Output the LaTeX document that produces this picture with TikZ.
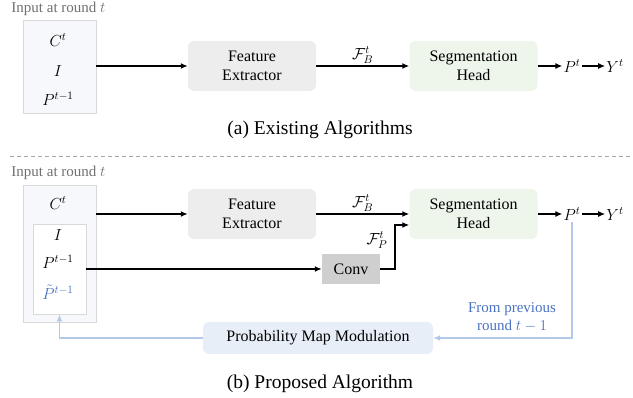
\RequirePackage{fix-cm}
\documentclass[tikz,border=0pt]{standalone}
\usepackage{fontspec}
\setmainfont{Liberation Serif}
\usetikzlibrary{arrows.meta}

\definecolor{inFill}{HTML}{F7F8FB}
\definecolor{inLine}{HTML}{D9D9D9}
\definecolor{feFill}{HTML}{EDEDED}
\definecolor{segFill}{HTML}{EEF6EC}
\definecolor{convFill}{HTML}{CFCFCF}
\definecolor{pmmFill}{HTML}{E8EEF8}
\definecolor{fbLine}{HTML}{B4C9EA}
\definecolor{fbText}{HTML}{4A72C0}
\definecolor{lblGray}{HTML}{707070}

\tikzset{
  blk/.style={rounded corners=6pt, minimum width=128pt, minimum height=50pt,
    align=center, inner sep=0pt, font=\fontsize{16}{19}\selectfont},
  inbox/.style={draw=inLine, fill=inFill, line width=0.8pt, inner sep=0pt},
  sym/.style={inner sep=1pt, font=\fontsize{16}{19}\selectfont},
  arr/.style={-{Latex[length=7pt,width=6pt]}, line width=1.6pt},
  fb/.style={-{Latex[length=7pt,width=6pt]}, draw=fbLine, line width=1.4pt},
  lbl/.style={text=lblGray, font=\fontsize{15}{18}\selectfont},
  captxt/.style={font=\fontsize{19.5}{23}\selectfont}
}

\begin{document}
\begin{tikzpicture}[x=1pt,y=-1pt]
	\useasboundingbox (0,0) rectangle (633,398);

	% (a) Existing
	\node[lbl] (inLblA) at (58.5,9) {Input at round $t$};
	\node[inbox, minimum width=73pt, minimum height=93pt] (inA) at (59.5,66.5) {};
	\node[sym] (cA) at (58,40) {$C^t$};
	\node[sym] (iA) at (58,71) {$I$};
	\node[sym] (ppA) at (58,99) {$P^{t-1}$};

	\node[blk, fill=feFill] (feA) at (252,66) {Feature\\Extractor};
	\node[blk, fill=segFill] (segA) at (473.5,66) {Segmentation\\Head};
	\node[sym] (pA) at (572,66) {$P^t$};
	\node[sym] (yA) at (615,66) {$Y^t$};

	\draw[arr] (inA.east |- feA.west) -- (feA.west);
	\draw[arr] (feA.east) -- node[sym, above=1pt] {$\mathcal{F}_B^t$} (segA.west);
	\draw[arr] (segA.east) -- (pA.west);
	\draw[arr] (pA.east) -- (yA.west);

	\node[captxt] (capA) at (320,130) {(a) Existing Algorithms};

	% separator
	\draw[gray!70, line width=0.8pt, dash pattern=on 4pt off 3pt] (10,156) -- (633,156);

	% (b) Proposed
	\node[lbl] (inLblB) at (58.5,173) {Input at round $t$};
	\node[inbox, minimum width=73pt, minimum height=137pt] (inB) at (59.5,253.5) {};
	\node[inbox, fill=white, minimum width=53pt, minimum height=90pt] (innerB) at (59.5,269) {};
	\node[sym] (cB) at (58,203) {$C^t$};
	\node[sym] (iB) at (58,235) {$I$};
	\node[sym] (ppB) at (58,262) {$P^{t-1}$};
	\node[sym, text=fbText] (ptB) at (58,292) {$\tilde{P}^{t-1}$};

	\node[blk, fill=feFill] (feB) at (252,214) {Feature\\Extractor};
	\node[blk, fill=segFill] (segB) at (473.5,214) {Segmentation\\Head};
	\node[blk, rounded corners=0pt, fill=convFill, minimum width=58pt, minimum height=30pt] (conv) at (351,269) {Conv};
	\node[sym] (pB) at (572,214) {$P^t$};
	\node[sym] (yB) at (615,214) {$Y^t$};
	\node[blk, fill=pmmFill, minimum width=230pt, minimum height=32pt] (pmm) at (318,338) {Probability Map Modulation};

	\draw[arr] (inB.east |- feB.west) -- (feB.west);
	\draw[arr] (feB.east) -- node[sym, above=1pt] {$\mathcal{F}_B^t$} (segB.west);
	\draw[arr] (innerB.east |- conv.west) -- (conv.west);
	\draw[arr] (conv.east) -- ++(15,0) |- ([yshift=-11pt]segB.west);
	\node[sym] (fpLbl) at (377,240) {$\mathcal{F}_P^t$};
	\draw[arr] (segB.east) -- (pB.west);
	\draw[arr] (pB.east) -- (yB.west);

	% feedback
	\draw[fb] (pB.south) |- (pmm.east);
	\draw[fb] (pmm.west) -| (innerB.south);
	\node[text=fbText, align=center, font=\fontsize{15}{18}\selectfont] (fromLbl) at (512,317) {From previous\\round $t-1$};

	\node[captxt] (capB) at (320,384) {(b) Proposed Algorithm};
\end{tikzpicture}
\end{document}
